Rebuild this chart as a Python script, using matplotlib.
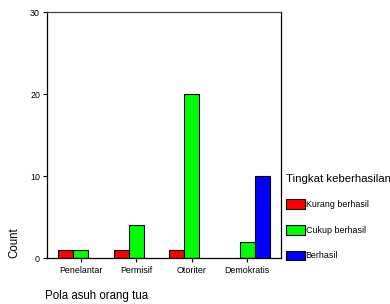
import matplotlib
matplotlib.use("Agg")
import matplotlib.pyplot as plt
import numpy as np

categories = ["Penelantar", "Permisif", "Otoriter", "Demokratis"]
series_names = ["Kurang berhasil", "Cukup berhasil", "Berhasil"]
kurang = [1, 1, 1, 0]
cukup = [1, 4, 20, 2]
berhasil = [0, 0, 0, 10]
colors = ["#ff0000", "#00ff00", "#0000ff"]
yticks = [0, 10, 20, 30]

plt.rcParams['font.family'] = ['Liberation Sans', 'DejaVu Sans']

fig = plt.figure(figsize=(3.9, 3.04), dpi=100)
ax = fig.add_axes([0.1205, 0.151, 0.6, 0.809])

x = np.arange(len(categories))
w = 0.27
handles = []
for i, (vals, c, name) in enumerate(zip([kurang, cukup, berhasil], colors, series_names)):
    pos = x + (i - 1) * w
    v = np.array(vals, dtype=float)
    mask = v > 0
    b = ax.bar(pos[mask], v[mask], width=w, color=c, edgecolor="black", linewidth=0.8, label=name)
    handles.append(b)

ax.set_xlim(-0.61, 3.61)
ax.set_ylim(0, 30)
ax.set_yticks(yticks)
ax.set_xticks(x)
ax.set_xticklabels(categories, fontsize=6.4)
ax.tick_params(axis='y', labelsize=6.4, length=3, width=0.8, pad=2)
ax.tick_params(axis='x', length=3, width=0.8, pad=2.5)
for s in ax.spines.values():
    s.set_linewidth(0.9)
ax.spines['top'].set_color('#444444')

fig.text(0.036, 0.151, "Count", rotation=90, fontsize=8.3, ha='center', va='bottom')
fig.text(0.115, 0.027, "Pola asuh orang tua", fontsize=8.3, ha='left', va='center')

leg = fig.legend(handles=handles, labels=series_names, title="Tingkat keberhasilan",
                 loc='upper left', bbox_to_anchor=(0.728, 0.435), frameon=False,
                 fontsize=6.4, title_fontsize=8.2, handlelength=2.15, handleheight=1.3,
                 labelspacing=1.78, handletextpad=0.1, borderpad=0.2, borderaxespad=0)
leg._legend_box.align = "left"

fig.savefig("out.png", dpi=100)
